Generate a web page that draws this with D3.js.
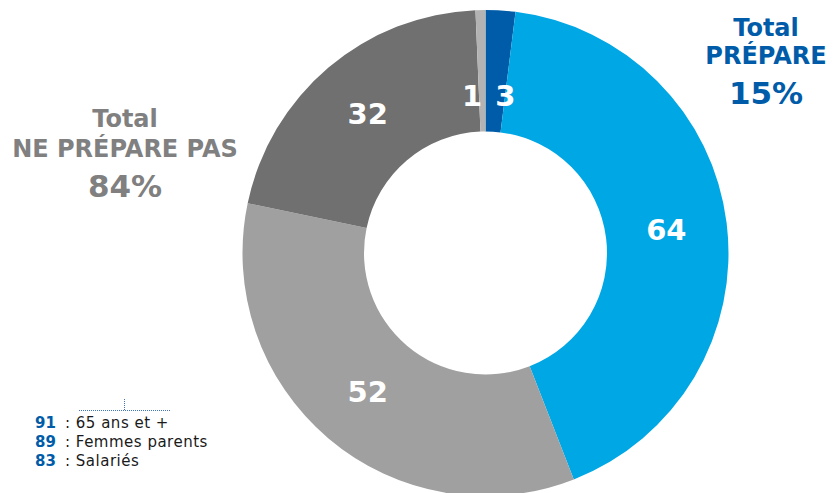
<!DOCTYPE html>
<html>
<head>
<meta charset="utf-8">
<script src="https://cdn.jsdelivr.net/npm/d3@7"></script>
<style>
  html, body { margin: 0; padding: 0; background: #ffffff; }
  svg { display: block; }
</style>
</head>
<body>
<svg id="chart" width="833" height="493"></svg>
<script>
// Slices, clockwise from 12 o'clock
const categories = ["Prépare (a)", "Prépare (b)", "Ne prépare pas (a)", "Ne prépare pas (b)", "Ne sait pas"];
const values = [3, 64, 52, 32, 1];
const sliceColors = ["#005ca8", "#00a7e5", "#a0a0a0", "#707070", "#b3b3b3"];

// Group totals
const totalPrepare = ["Total", "PRÉPARE", "15%"];
const totalNePrepare = ["Total", "NE PRÉPARE PAS", "84%"];

// Sub-group notes
const noteValues = ["91", "89", "83"];
const noteLabels = [": 65 ans et +", ": Femmes parents", ": Salariés"];

const svg = d3.select("#chart");
const cx = 485.5, cy = 253;
const outerR = 243, innerR = 121.5;
const font = "'DejaVu Sans', Verdana, sans-serif";

const pie = d3.pie().sort(null).value(d => d.value);
const data = categories.map((c, i) => ({ cat: c, value: values[i], color: sliceColors[i] }));
const arcs = pie(data);

const arc = d3.arc().innerRadius(innerR).outerRadius(outerR);
const g = svg.append("g").attr("transform", `translate(${cx},${cy})`);

g.selectAll("path.slice")
  .data(arcs)
  .join("path")
  .attr("class", "slice")
  .attr("d", arc)
  .attr("fill", d => d.data.color);

// Value labels: centred in the ring for wide slices, nudged sideways for thin ones
const smallR = 157;
g.selectAll("text.val")
  .data(arcs)
  .join("text")
  .attr("class", "val")
  .each(function (d) {
    const mid = (d.startAngle + d.endAngle) / 2;
    const span = d.endAngle - d.startAngle;
    const t = d3.select(this);
    if (span < 0.2) {
      t.attr("x", smallR * Math.sin(mid))
       .attr("y", -smallR * Math.cos(mid))
       .attr("text-anchor", mid > Math.PI ? "end" : "start");
    } else {
      const c = arc.centroid(d);
      t.attr("x", c[0]).attr("y", c[1]).attr("text-anchor", "middle");
    }
  })
  .attr("dominant-baseline", "central")
  .attr("font-family", font)
  .attr("font-weight", "bold")
  .attr("font-size", 29)
  .attr("fill", "#ffffff")
  .text(d => d.data.value);

// Group total captions
function caption(lines, x, baselines, sizes, color) {
  const t = svg.append("g");
  lines.forEach((s, i) => {
    t.append("text")
      .attr("x", x)
      .attr("y", baselines[i])
      .attr("text-anchor", "middle")
      .attr("font-family", font)
      .attr("font-weight", "bold")
      .attr("font-size", sizes[i])
      .attr("fill", color)
      .text(s);
  });
}
caption(totalPrepare, 766, [36, 64, 104], [24, 24, 31], "#005ca8");
caption(totalNePrepare, 125, [127, 157, 197], [24, 24, 31], "#808080");

// Notes block bottom-left
const notes = svg.append("g");
notes.append("line")
  .attr("x1", 79).attr("x2", 170).attr("y1", 410.5).attr("y2", 410.5)
  .attr("stroke", "#3f74b8").attr("stroke-width", 1).attr("stroke-dasharray", "1,1");
notes.append("line")
  .attr("x1", 124.5).attr("x2", 124.5).attr("y1", 399).attr("y2", 410)
  .attr("stroke", "#3f74b8").attr("stroke-width", 1).attr("stroke-dasharray", "1,1");

noteValues.forEach((v, i) => {
  const y = 428 + i * 19;
  notes.append("text")
    .attr("x", 35)
    .attr("y", y)
    .attr("font-family", font)
    .attr("font-size", 15)
    .attr("font-weight", "bold")
    .attr("fill", "#005ca8")
    .text(v);
  notes.append("text")
    .attr("x", 65)
    .attr("y", y)
    .attr("font-family", font)
    .attr("font-size", 15)
    .attr("letter-spacing", 0.5)
    .attr("fill", "#1a1a1a")
    .text(noteLabels[i]);
});
</script>
</body>
</html>
